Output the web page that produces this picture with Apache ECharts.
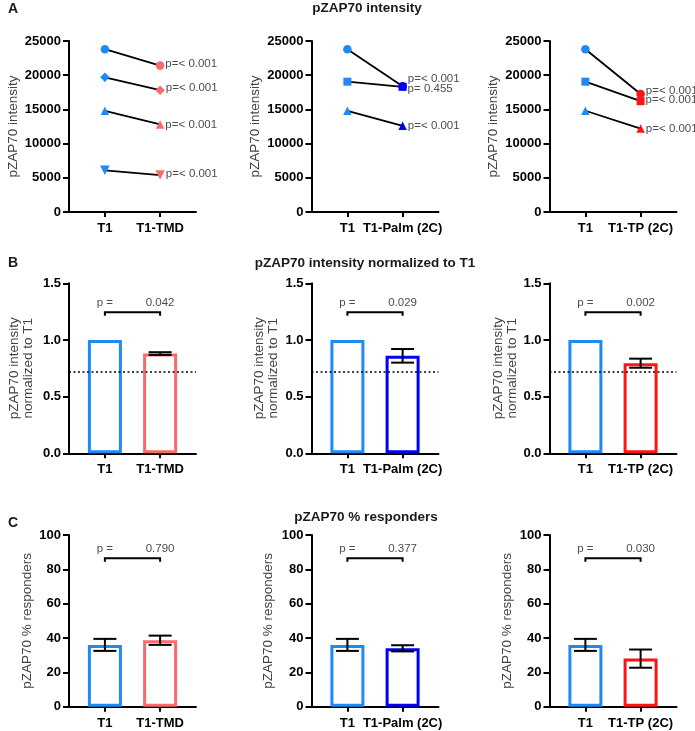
<!DOCTYPE html>
<html>
<head>
<meta charset="utf-8">
<title>pZAP70</title>
<script src="https://cdn.jsdelivr.net/npm/echarts@6/dist/echarts.min.js"></script>
<style>
    html, body { margin: 0; padding: 0; background: #fff; }
    #chart { width: 695px; height: 731px; }
</style>
</head>
<body>
<div id="chart"></div>
<script>
(function () {
    'use strict';

    // ---- data ----
    var categories = [
        ['T1', 'T1-TMD'],
        ['T1', 'T1-Palm (2C)'],
        ['T1', 'T1-TP (2C)']
    ];

    // A: paired intensities, [T1, variant]
    var intensityTMD = [[23800, 21400], [19700, 17800], [14800, 12800], [6100, 5400]];
    var intensityPalm = [[23800, 18400], [19050, 18300], [14800, 12600]];
    var intensityTP = [[23800, 17250], [19050, 16200], [14800, 12200]];
    var pIntensityTMD = ['p=< 0.001', 'p=< 0.001', 'p=< 0.001', 'p=< 0.001'];
    var pIntensityPalm = ['p=< 0.001', 'p= 0.455', 'p=< 0.001'];
    var pIntensityTP = ['p=< 0.001', 'p=< 0.001', 'p=< 0.001'];

    // B: intensity normalized to T1 (mean, error)
    var normMean = [[1.0, 0.88], [1.0, 0.86], [1.0, 0.795]];
    var normErr = [[0, 0.012], [0, 0.06], [0, 0.04]];
    var normP = ['0.042', '0.029', '0.002'];
    var normThreshold = 0.72;

    // C: % responders (mean, error)
    var respMean = [[36, 38.7], [36, 34], [36, 28]];
    var respErr = [[3.5, 2.7], [3.5, 1.8], [3.5, 5.3]];
    var respP = ['0.790', '0.377', '0.030'];

    // ---- look ----
    var FONT = '"Liberation Sans", Arial, Helvetica, sans-serif';
    var T1_COLOR = '#1E8BF5';
    var variantColor = ['#F86B6B', '#0000F5', '#FF1414'];
    var shapesA = [
        ['circle', 'path://M5,0L10,5L5,10L0,5Z', 'triangle', 'path://M0,0L10,0L5,9Z'],
        ['circle', 'rect', 'triangle'],
        ['circle', 'rect', 'triangle']
    ];
    var labelNudgeA = [[-2, -2, 0, -1], [-7, 2.5, 0], [-3, -1, 0]];
    var bracketY = [1.245, 86.4];

    var colLeft = [69, 311.5, 549.5];
    var rowTop = [41, 283.3, 535];
    var rowHeight = [171, 170, 171.7];
    var rowMax = [25000, 1.5, 100];
    var rowInterval = [5000, 0.5, 20];
    var rowName = ['pZAP70 intensity', 'pZAP70 intensity\nnormalized to T1', 'pZAP70 % responders'];
    var rowNameGap = [[49, 49, 49], [34, 31, 28], [35, 36, 35]];

    var chart = echarts.init(document.getElementById('chart'), null, { renderer: 'canvas' });

    var grids = [], xAxes = [], yAxes = [], series = [];

    function titleItem(text, x, yc, size, align) {
        return {
            text: text, left: x, top: yc - 8, padding: 0, textAlign: align,
            textStyle: { fontFamily: FONT, fontSize: size, fontWeight: 'bold', color: '#1a1a1a' }
        };
    }

    for (var r = 0; r < 3; r++) {
        for (var c = 0; c < 3; c++) {
            (function (r, c) {
                var idx = r * 3 + c;
                grids.push({ left: colLeft[c], top: rowTop[r], width: 127, height: rowHeight[r] });
                xAxes.push({
                    type: 'value', gridIndex: idx, min: -0.65, max: 1.65,
                    splitLine: { show: false },
                    axisLine: { show: true, onZero: false, lineStyle: { color: '#000', width: 2 } },
                    axisTick: { show: true, customValues: [0, 1], length: 5, lineStyle: { color: '#000', width: 2 } },
                    axisLabel: {
                        customValues: [0, 1], margin: 10,
                        fontFamily: FONT, fontSize: 13, fontWeight: 'bold', color: '#000',
                        formatter: function (v) { return categories[c][Math.round(v)]; }
                    }
                });
                yAxes.push({
                    type: 'value', gridIndex: idx, min: 0, max: rowMax[r], interval: rowInterval[r],
                    splitLine: { show: false },
                    axisLine: { show: true, onZero: false, lineStyle: { color: '#000', width: 2 } },
                    axisTick: { show: true, length: 6, lineStyle: { color: '#000', width: 2 } },
                    axisLabel: {
                        margin: 8, fontFamily: FONT, fontSize: 13, fontWeight: 'bold', color: '#000',
                        formatter: r === 1
                            ? function (v) { return v.toFixed(1); }
                            : function (v) { return String(v); }
                    },
                    name: rowName[r], nameLocation: 'middle', nameRotate: 90, nameGap: rowNameGap[r][c],
                    nameTextStyle: { fontFamily: FONT, fontSize: 13.5, color: '#444', lineHeight: 14 }
                });
            })(r, c);
        }
    }

    // Row A: paired lines
    var pairsA = [intensityTMD, intensityPalm, intensityTP];
    var pA = [pIntensityTMD, pIntensityPalm, pIntensityTP];
    pairsA.forEach(function (pairs, c) {
        pairs.forEach(function (pair, k) {
            var shape = shapesA[c][k];
            series.push({
                type: 'line', xAxisIndex: c, yAxisIndex: c,
                symbol: shape, symbolSize: shape === 'rect' ? 8 : (shape.indexOf('path') === 0 ? 9.5 : 8.5),
                lineStyle: { color: '#000', width: 1.8 },
                itemStyle: { color: T1_COLOR },
                emphasis: { disabled: true },
                data: [
                    { value: [0, pair[0]], itemStyle: { color: T1_COLOR } },
                    {
                        value: [1, pair[1]], itemStyle: { color: variantColor[c] },
                        label: {
                            show: true, position: 'right', distance: 1, offset: [0, labelNudgeA[c][k]],
                            formatter: pA[c][k], fontFamily: FONT, fontSize: 11.5, color: '#4d4d4d'
                        }
                    }
                ]
            });
        });
    });

    function errorBars(idx, means, errs) {
        return {
            type: 'custom', xAxisIndex: idx, yAxisIndex: idx, z: 5,
            data: means.map(function (m, i) { return [i, m, errs[i]]; }),
            renderItem: function (params, api) {
                var x = api.value(0), m = api.value(1), e = api.value(2);
                if (!e) { return; }
                var hi = api.coord([x, m + e]), lo = api.coord([x, m - e]);
                var half = 11.5, st = { stroke: '#000', lineWidth: 2 };
                return {
                    type: 'group', children: [
                        { type: 'line', shape: { x1: hi[0], y1: hi[1], x2: lo[0], y2: lo[1] }, style: st },
                        { type: 'line', shape: { x1: hi[0] - half, y1: hi[1], x2: hi[0] + half, y2: hi[1] }, style: st },
                        { type: 'line', shape: { x1: lo[0] - half, y1: lo[1], x2: lo[0] + half, y2: lo[1] }, style: st }
                    ]
                };
            }
        };
    }

    function bracket(idx, level, pText) {
        return {
            type: 'custom', xAxisIndex: idx, yAxisIndex: idx, z: 5,
            data: [[0, level]],
            renderItem: function (params, api) {
                var a = api.coord([0, api.value(1)]), b = api.coord([1, api.value(1)]);
                var ts = { fontFamily: FONT, fontSize: 11.5, fill: '#4d4d4d', align: 'center', verticalAlign: 'middle' };
                return {
                    type: 'group', children: [
                        {
                            type: 'polyline',
                            shape: { points: [[a[0], a[1] + 3.5], a, b, [b[0], b[1] + 3.5]] },
                            style: { stroke: '#000', lineWidth: 2, fill: null }
                        },
                        { type: 'text', style: echarts.util.extend({ text: 'p =', x: a[0], y: a[1] - 9.5 }, ts) },
                        { type: 'text', style: echarts.util.extend({ text: pText, x: b[0], y: b[1] - 9.5 }, ts) }
                    ]
                };
            }
        };
    }

    function barSeries(idx, c, means, withLine) {
        var s = {
            type: 'bar', xAxisIndex: idx, yAxisIndex: idx, barWidth: 34,
            itemStyle: { color: '#fff', borderWidth: 3 },
            emphasis: { disabled: true },
            data: [
                { value: [0, means[0]], itemStyle: { borderColor: T1_COLOR } },
                { value: [1, means[1]], itemStyle: { borderColor: variantColor[c] } }
            ]
        };
        if (withLine) {
            s.markLine = {
                silent: true, symbol: 'none', label: { show: false },
                lineStyle: { type: [2, 2.5], color: '#000', width: 1.5 },
                data: [{ yAxis: normThreshold }]
            };
        }
        return s;
    }

    // Row B and C: bars with error bars and p brackets
    for (var c = 0; c < 3; c++) {
        series.push(barSeries(3 + c, c, normMean[c], true));
        series.push(errorBars(3 + c, normMean[c], normErr[c]));
        series.push(bracket(3 + c, bracketY[0], normP[c]));

        series.push(barSeries(6 + c, c, respMean[c], false));
        series.push(errorBars(6 + c, respMean[c], respErr[c]));
        series.push(bracket(6 + c, bracketY[1], respP[c]));
    }

    chart.setOption({
        animation: false,
        backgroundColor: '#fff',
        textStyle: { fontFamily: FONT },
        title: [
            titleItem('A', 8, 10, 14, 'left'),
            titleItem('pZAP70 intensity', 367, 9, 13.5, 'center'),
            titleItem('B', 8, 264, 14, 'left'),
            titleItem('pZAP70 intensity normalized to T1', 365, 264, 13.5, 'center'),
            titleItem('C', 8, 524, 14, 'left'),
            titleItem('pZAP70 % responders', 366, 518, 13.5, 'center')
        ],
        grid: grids,
        xAxis: xAxes,
        yAxis: yAxes,
        series: series
    });
})();
</script>
</body>
</html>
